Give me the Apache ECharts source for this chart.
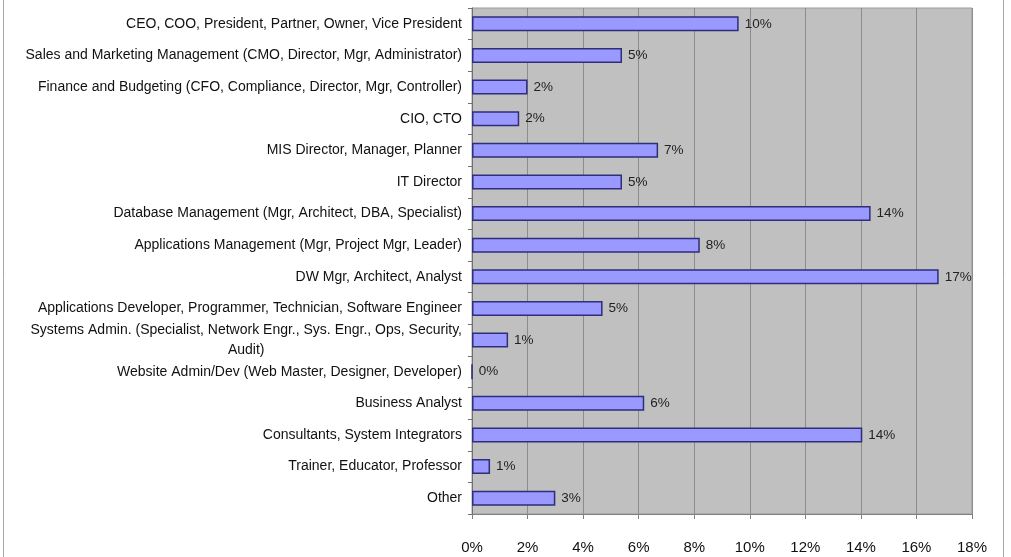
<!DOCTYPE html>
<html>
<head>
<meta charset="utf-8">
<script src="https://cdn.jsdelivr.net/npm/echarts@6/dist/echarts.min.js"></script>
<style>
  html, body { margin: 0; padding: 0; background: #ffffff; }
  #chart { width: 1011px; height: 557px; }
</style>
</head>
<body>
<div id="chart"></div>
<script>
// Job roles, listed top to bottom
const roles = [
  'CEO, COO, President, Partner, Owner, Vice President',
  'Sales and Marketing Management (CMO, Director, Mgr, Administrator)',
  'Finance and Budgeting (CFO, Compliance, Director, Mgr, Controller)',
  'CIO, CTO',
  'MIS Director, Manager, Planner',
  'IT Director',
  'Database Management (Mgr, Architect, DBA, Specialist)',
  'Applications Management (Mgr, Project Mgr, Leader)',
  'DW Mgr, Architect, Analyst',
  'Applications Developer, Programmer, Technician, Software Engineer',
  'Systems Admin. (Specialist, Network Engr., Sys. Engr., Ops, Security,\nAudit)',
  'Website Admin/Dev (Web Master, Designer, Developer)',
  'Business Analyst',
  'Consultants, System Integrators',
  'Trainer, Educator, Professor',
  'Other'
];

// Share of respondents per role, in percent
const sharePct = [9.6, 5.4, 2.0, 1.7, 6.7, 5.4, 14.35, 8.2, 16.8, 4.7, 1.3, 0, 6.2, 14.05, 0.65, 3.0];

// Percent axis ticks
const axisMin = 0;
const axisMax = 18;
const axisStep = 2;

const chart = echarts.init(document.getElementById('chart'), null, { renderer: 'canvas' });

const font = 'Liberation Sans, Arial, sans-serif';

// Wrapped role names keep their continuation line centred under the first line
function roleLabel(name) {
  const parts = name.split('\n');
  if (parts.length === 1) return name;
  return parts.map((p, i) => (i === 0 ? '{first|' + p + '}' : '{rest|' + p + '}')).join('\n');
}

chart.setOption({
  backgroundColor: '#ffffff',
  animation: false,
  graphic: [
    {
      type: 'rect',
      shape: { x: 3.5, y: -10, width: 1000, height: 580 },
      style: { fill: 'none', stroke: '#a8a8a8', lineWidth: 1 },
      silent: true,
      z: -1
    }
  ],
  grid: {
    left: 472,
    right: 39,
    top: 8,
    bottom: 43,
    show: true,
    backgroundColor: '#c0c0c0',
    borderColor: '#9a9a9a',
    borderWidth: 1
  },
  xAxis: {
    type: 'value',
    min: axisMin,
    max: axisMax,
    interval: axisStep,
    axisLine: { show: true, lineStyle: { color: '#808080', width: 1 } },
    axisTick: { show: true, length: 5, lineStyle: { color: '#808080' } },
    axisLabel: {
      formatter: '{value}%',
      color: '#111111',
      fontFamily: font,
      fontSize: 15,
      margin: 26
    },
    splitLine: { show: true, lineStyle: { color: '#8c8c8c', width: 1 } }
  },
  yAxis: {
    type: 'category',
    data: roles,
    inverse: true,
    axisLine: { show: true, lineStyle: { color: '#707070', width: 1 } },
    axisTick: { show: true, length: 4, alignWithLabel: false, lineStyle: { color: '#707070' } },
    axisLabel: {
      color: '#111111',
      fontFamily: font,
      fontSize: 14,
      margin: 10,
      lineHeight: 20,
      interval: 0,
      align: 'right',
      formatter: roleLabel,
      rich: {
        first: { fontFamily: font, fontSize: 14, color: '#111111', lineHeight: 20, align: 'right' },
        rest: { fontFamily: font, fontSize: 14, color: '#111111', lineHeight: 20, align: 'center' }
      }
    },
    splitLine: { show: false }
  },
  series: [
    {
      type: 'bar',
      data: sharePct,
      barWidth: 15,
      itemStyle: {
        color: '#9999ff',
        borderColor: '#2e2e7a',
        borderWidth: 1.5
      },
      label: {
        show: true,
        position: 'right',
        distance: 6,
        color: '#222222',
        fontFamily: font,
        fontSize: 13.5,
        formatter: p => Math.round(p.value) + '%'
      }
    }
  ]
});
</script>
</body>
</html>
